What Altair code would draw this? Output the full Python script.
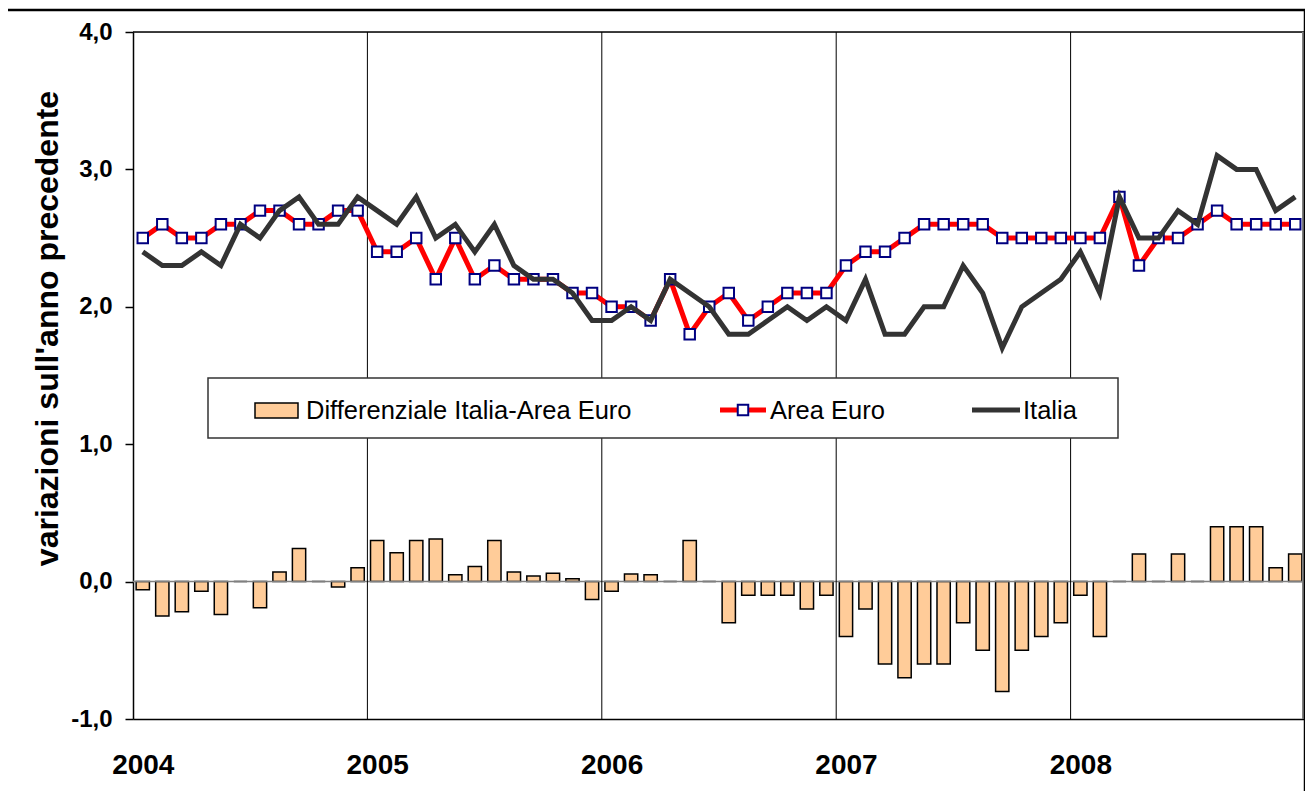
import json
import altair as alt
import pandas as pd

# ---------------- data ----------------
years = ["2004", "2005", "2006", "2007", "2008"]

area_euro = [
    2.5, 2.6, 2.5, 2.5, 2.6, 2.6, 2.7, 2.7, 2.6, 2.6, 2.7, 2.7,
    2.4, 2.4, 2.5, 2.2, 2.5, 2.2, 2.3, 2.2, 2.2, 2.2, 2.1, 2.1,
    2.0, 2.0, 1.9, 2.2, 1.8, 2.0, 2.1, 1.9, 2.0, 2.1, 2.1, 2.1,
    2.3, 2.4, 2.4, 2.5, 2.6, 2.6, 2.6, 2.6, 2.5, 2.5, 2.5, 2.5,
    2.5, 2.5, 2.8, 2.3, 2.5, 2.5, 2.6, 2.7, 2.6, 2.6, 2.6, 2.6,
]
italia = [
    2.4, 2.3, 2.3, 2.4, 2.3, 2.6, 2.5, 2.7, 2.8, 2.6, 2.6, 2.8,
    2.7, 2.6, 2.8, 2.5, 2.6, 2.4, 2.6, 2.3, 2.2, 2.2, 2.1, 1.9,
    1.9, 2.0, 1.9, 2.2, 2.1, 2.0, 1.8, 1.8, 1.9, 2.0, 1.9, 2.0,
    1.9, 2.2, 1.8, 1.8, 2.0, 2.0, 2.3, 2.1, 1.7, 2.0, 2.1, 2.2,
    2.4, 2.1, 2.8, 2.5, 2.5, 2.7, 2.6, 3.1, 3.0, 3.0, 2.7, 2.8,
]
differenziale = [
    -0.06, -0.25, -0.22, -0.07, -0.24, 0.0, -0.19, 0.07, 0.24, 0.0, -0.04, 0.10,
    0.30, 0.21, 0.30, 0.31, 0.05, 0.11, 0.30, 0.07, 0.04, 0.06, 0.02, -0.13,
    -0.07, 0.055, 0.05, 0.0, 0.30, 0.0, -0.30, -0.10, -0.10, -0.10, -0.20, -0.10,
    -0.40, -0.20, -0.60, -0.70, -0.60, -0.60, -0.30, -0.50, -0.80, -0.50, -0.40, -0.30,
    -0.10, -0.40, 0.0, 0.20, 0.0, 0.20, 0.0, 0.40, 0.40, 0.40, 0.10, 0.20,
]
legend_labels = ["Differenziale Italia-Area Euro", "Area Euro", "Italia"]
y_title = "variazioni sull'anno precedente"

n = len(area_euro)
df = pd.DataFrame({
    "idx": list(range(n)),
    "area_euro": area_euro,
    "italia": italia,
    "diff": differenziale,
})
grid_df = pd.DataFrame({"g": [12 * k for k in range(1, len(years))]})
one = pd.DataFrame({"a": [0]})

FONT = "Liberation Sans"
W, H = 1172, 687

xscale = alt.Scale(domain=[0, n], nice=False, zero=False)
yscale = alt.Scale(domain=[-1, 4], nice=False, zero=False)

label_expr = "%s[floor(datum.value / 12)]" % json.dumps(years)

base = alt.Chart(df).transform_calculate(mid="datum.idx + 0.5")

xaxis = alt.Axis(
    values=[12 * k + 0.5 for k in range(len(years))],
    labelExpr=label_expr,
    ticks=False, grid=False, domain=True, domainColor="black", domainWidth=1.5,
    labelFont=FONT, labelFontSize=28, labelFontWeight="bold", labelColor="black",
    labelPadding=32, title=None,
)
yaxis = alt.Axis(
    values=[-1, 0, 1, 2, 3, 4],
    labelExpr="replace(replace(format(datum.value, '.1f'), '.', ','), '\u2212', '-')",
    grid=False, ticks=True, tickSize=8, tickColor="black", tickWidth=1.5,
    domain=True, domainColor="black", domainWidth=1.5,
    labelFont=FONT, labelFontSize=24, labelFontWeight="bold", labelColor="black",
    labelPadding=13,
    title=y_title, titleFont=FONT, titleFontSize=32, titleFontWeight="bold",
    titleColor="black", titleAngle=270, titleX=-86, titleY=296,
    titleAlign="center", titleBaseline="middle",
)

bars = base.transform_calculate(
    x0="datum.idx + 0.16", x1="datum.idx + 0.84"
).mark_bar(fill="#FFCC99", stroke="black", strokeWidth=1.5).encode(
    x=alt.X("x0:Q", scale=xscale, axis=xaxis),
    x2="x1:Q",
    y=alt.Y("diff:Q", scale=yscale, axis=yaxis),
    y2=alt.datum(0),
)

zero_line = alt.Chart(one).transform_calculate(z="0").mark_rule(
    color="#808080", strokeWidth=1.5
).encode(y=alt.Y("z:Q", scale=yscale))

grid = alt.Chart(grid_df).mark_rule(color="black", strokeWidth=1).encode(
    x=alt.X("g:Q", scale=xscale),
)

top_line = alt.Chart(one).mark_rule(color="black", strokeWidth=1.5).encode(
    x=alt.value(0), x2=alt.value(W), y=alt.value(0),
)
right_line = alt.Chart(one).mark_rule(color="#808080", strokeWidth=2).encode(
    x=alt.value(W - 2), y=alt.value(0), y2=alt.value(H),
)

euro_line = base.mark_line(color="#FF0000", strokeWidth=5).encode(
    x=alt.X("mid:Q", scale=xscale), y=alt.Y("area_euro:Q", scale=yscale),
)
euro_pts = base.mark_point(shape="square", size=110, filled=True, fill="white",
                           stroke="#000080", strokeWidth=2, opacity=1).encode(
    x=alt.X("mid:Q", scale=xscale), y=alt.Y("area_euro:Q", scale=yscale),
)
ita_line = base.mark_line(color="#333333", strokeWidth=5).encode(
    x=alt.X("mid:Q", scale=xscale), y=alt.Y("italia:Q", scale=yscale),
)

# ---------------- manual legend ----------------
leg_box = alt.Chart(one).mark_rect(fill="white", stroke="#333333", strokeWidth=1.5).encode(
    x=alt.value(75), x2=alt.value(985), y=alt.value(346), y2=alt.value(406),
)
leg_patch = alt.Chart(one).mark_rect(fill="#FFCC99", stroke="black", strokeWidth=1.5).encode(
    x=alt.value(122), x2=alt.value(165), y=alt.value(371), y2=alt.value(386),
)
leg_red = alt.Chart(one).mark_rule(color="#FF0000", strokeWidth=5).encode(
    x=alt.value(587), x2=alt.value(633), y=alt.value(378),
)
leg_sq = alt.Chart(one).mark_point(shape="square", size=110, filled=True, fill="white",
                                   stroke="#000080", strokeWidth=2, opacity=1).encode(
    x=alt.value(610), y=alt.value(378),
)
leg_dark = alt.Chart(one).mark_rule(color="#333333", strokeWidth=5).encode(
    x=alt.value(839), x2=alt.value(887), y=alt.value(378),
)
leg_texts = []
for lbl, px in zip(legend_labels, [173, 637, 890]):
    leg_texts.append(
        alt.Chart(one).mark_text(align="left", baseline="middle", font=FONT,
                                 fontSize=25.5, color="black").encode(
            x=alt.value(px), y=alt.value(379), text=alt.value(lbl),
        )
    )

frame = alt.Chart(one).mark_rect(fill=None, stroke="black", strokeWidth=2.5).encode(
    x=alt.value(-127), x2=alt.value(W), y=alt.value(-22), y2=alt.value(H + 200),
)

chart = alt.layer(
    bars, zero_line, grid, top_line, right_line,
    euro_line, euro_pts, ita_line,
    leg_box, leg_patch, leg_red, leg_sq, leg_dark, *leg_texts,
    frame,
).properties(
    width=W, height=H,
    autosize=alt.AutoSizeParams(type="none"),
    padding={"left": 125, "top": 24, "right": 0, "bottom": 72},
).configure_view(stroke=None).configure(background="white")

chart.save("out.html", embed_options={"renderer": "svg", "actions": False})
